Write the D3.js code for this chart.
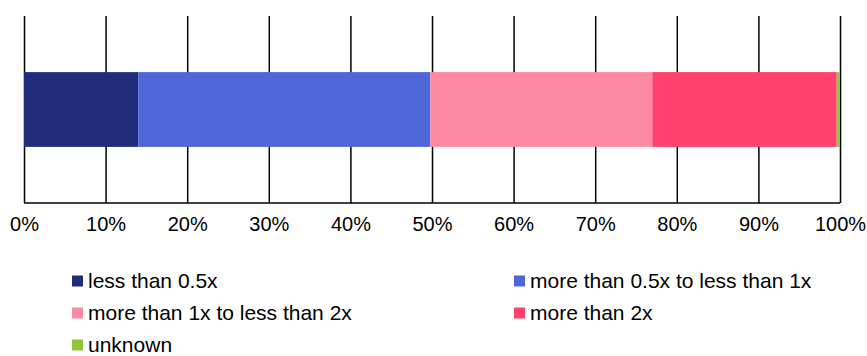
<!DOCTYPE html>
<html>
<head>
<meta charset="utf-8">
<title>Stacked share bar</title>
<script src="https://cdn.jsdelivr.net/npm/d3@7/dist/d3.min.js"></script>
<style>
	body { margin: 0; background: #fff; }
	svg { display: block; }
	text { font-family: "Liberation Sans", Arial, sans-serif; fill: #000; }
	.axis path, .axis line { stroke: #000; stroke-width: 1.5px; }
	.axis text { font-size: 20px; }
	.legend text { font-size: 21px; }
</style>
</head>
<body>
<div id="chart"></div>
<script>

// data (percent of total)
var categories = ['less than 0.5x', 'more than 0.5x to less than 1x',
	'more than 1x to less than 2x', 'more than 2x', 'unknown'];
var values = [14.0, 35.8, 27.2, 22.6, 0.4];
var colors = ['#1f2d7b', '#5068d7', '#ff88a2', '#ff416e', '#8cc63a'];
var tickValues = [0, 10, 20, 30, 40, 50, 60, 70, 80, 90, 100];

var width = 867, height = 356;
var margin = {top: 16, left: 24, right: 27, bottom: 153};

var svg = d3.select('#chart').append('svg')
	.attr('width', width)
	.attr('height', height);

var x = d3.scaleLinear()
	.domain([0, 100])
	.range([margin.left, width - margin.right]);

var plotBottom = height - margin.bottom;

var y = d3.scaleBand()
	.domain(['row'])
	.range([margin.top, plotBottom])
	.paddingInner(0.6)
	.paddingOuter(0.3);

// gridlines + axis
var axis = d3.axisBottom(x)
	.tickValues(tickValues)
	.tickSize(-(plotBottom - margin.top))
	.tickSizeOuter(0)
	.tickPadding(14)
	.tickFormat(function(d){ return d + '%'; });

svg.append('g')
	.attr('class', 'axis')
	.attr('transform', 'translate(0,' + plotBottom + ')')
	.call(axis)
	.call(function(g){ g.select('.domain').attr('d', 'M' + x(0) + ',0H' + x(100)); });

// stacked bar
var row = {};
categories.forEach(function(c, i){ row[c] = values[i]; });
var stack = d3.stack().keys(categories)([row]);

svg.append('g').selectAll('rect')
	.data(stack)
	.enter().append('rect')
		.attr('x', function(d){ return x(d[0][0]); })
		.attr('width', function(d){ return x(d[0][1]) - x(d[0][0]); })
		.attr('y', y('row'))
		.attr('height', y.bandwidth())
		.attr('fill', function(d, i){ return colors[i]; });

// legend, two columns
var legend = svg.append('g').attr('class', 'legend')
	.selectAll('g')
	.data(categories)
	.enter().append('g')
		.attr('transform', function(d, i){
			return 'translate(' + (i % 2 ? 514 : 72) + ',' + (281 + Math.floor(i / 2) * 32) + ')';
		});

legend.append('rect')
	.attr('x', 0).attr('y', -5.5)
	.attr('width', 11).attr('height', 11)
	.attr('fill', function(d, i){ return colors[i]; });

legend.append('text')
	.attr('x', 16)
	.attr('dy', '0.35em')
	.text(function(d){ return d; });

</script>
</body>
</html>
